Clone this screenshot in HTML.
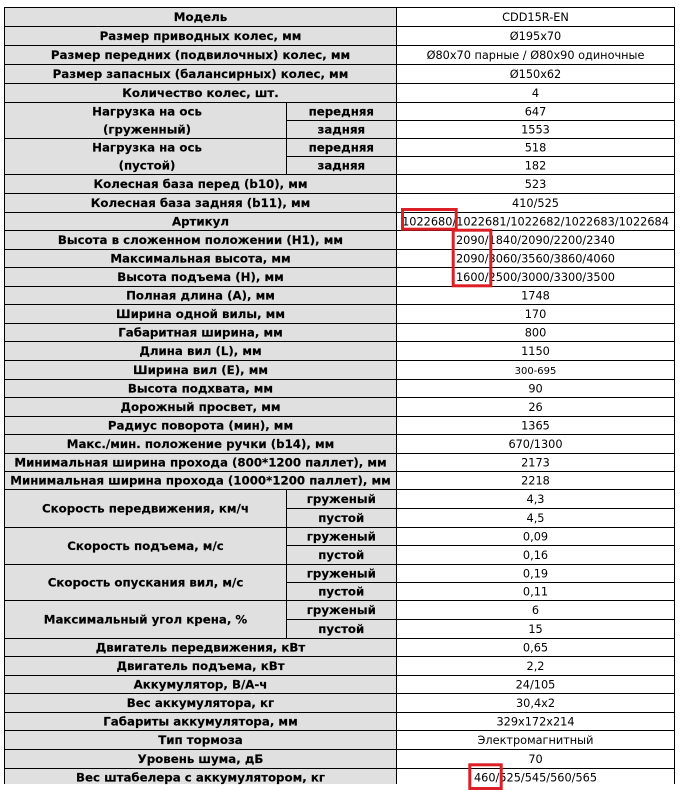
<!DOCTYPE html>
<html><head><meta charset="utf-8"><style>
html,body{margin:0;padding:0;background:#fff;}
svg{display:block;}
.l{font-family:"DejaVu Sans","Liberation Sans",sans-serif;font-weight:bold;font-size:11.8px;fill:#000;stroke:#000;stroke-width:0.15px;text-anchor:middle;}
.v{font-family:"DejaVu Sans","Liberation Sans",sans-serif;font-size:11.3px;fill:#000;text-anchor:middle;}
</style></head><body>
<svg width="680" height="790" viewBox="0 0 680 790" xmlns="http://www.w3.org/2000/svg">
<rect x="0" y="0" width="680" height="790" fill="#fff"/>
<rect x="4.5" y="7" width="392" height="777" fill="#e0e0e0"/>
<g stroke="#000" stroke-width="1" shape-rendering="crispEdges">
<path d="M4.5 7.5H675 M4.5 26.5H675 M4.5 45.5H675 M4.5 64.5H675 M4.5 83.5H675 M4.5 102.5H675 M4.5 138.5H675 M4.5 174.5H675 M4.5 193.5H675 M4.5 212.5H675 M4.5 230.5H675 M4.5 249.5H675 M4.5 267.5H675 M4.5 286.5H675 M4.5 304.5H675 M4.5 323.5H675 M4.5 341.5H675 M4.5 360.5H675 M4.5 379.5H675 M4.5 397.5H675 M4.5 416.5H675 M4.5 434.5H675 M4.5 453.5H675 M4.5 471.5H675 M4.5 489.5H675 M4.5 527.5H675 M4.5 564.5H675 M4.5 600.5H675 M4.5 638.5H675 M4.5 656.5H675 M4.5 675.5H675 M4.5 693.5H675 M4.5 712.5H675 M4.5 730.5H675 M4.5 749.5H675 M4.5 768.5H675"/>
<path d="M286 120.5H675 M286 156.5H675 M286 508.5H675 M286 545.5H675 M286 582.5H675 M286 619.5H675"/>
<path d="M4.5 7V784 M396.5 7V784 M674.5 7V784 M286.5 102V174 M286.5 489V638"/>
</g>
<g class="l">
<text x="200.5" y="21">Модель</text>
<text x="200.5" y="40">Размер приводных колес, мм</text>
<text x="200.5" y="59">Размер передних (подвилочных) колес, мм</text>
<text x="200.5" y="78">Размер запасных (балансирных) колес, мм</text>
<text x="200.5" y="97">Количество колес, шт.</text>
<text x="147" y="115.5">Нагрузка на ось</text>
<text x="147" y="133.5">(груженный)</text>
<text x="147" y="151.5">Нагрузка на ось</text>
<text x="147" y="169.5">(пустой)</text>
<text x="341.3" y="115.5">передняя</text>
<text x="341.3" y="133.5">задняя</text>
<text x="341.3" y="151.5">передняя</text>
<text x="341.3" y="169.5">задняя</text>
<text x="200.5" y="188">Колесная база перед (b10), мм</text>
<text x="200.5" y="207">Колесная база задняя (b11), мм</text>
<text x="200.5" y="225.5">Артикул</text>
<text x="200.5" y="244">Высота в сложенном положении (H1), мм</text>
<text x="200.5" y="262.5">Максимальная высота, мм</text>
<text x="200.5" y="281">Высота подъема (H), мм</text>
<text x="200.5" y="299.5">Полная длина (A), мм</text>
<text x="200.5" y="318">Ширина одной вилы, мм</text>
<text x="200.5" y="336.5">Габаритная ширина, мм</text>
<text x="200.5" y="355">Длина вил (L), мм</text>
<text x="200.5" y="374">Ширина вил (E), мм</text>
<text x="200.5" y="392.5">Высота подхвата, мм</text>
<text x="200.5" y="411">Дорожный просвет, мм</text>
<text x="200.5" y="429.5">Радиус поворота (мин), мм</text>
<text x="200.5" y="448">Макс./мин. положение ручки (b14), мм</text>
<text x="200.5" y="466.5">Минимальная ширина прохода (800*1200 паллет), мм</text>
<text x="200.5" y="484.5">Минимальная ширина прохода (1000*1200 паллет), мм</text>
<text x="145.5" y="512.5">Скорость передвижения, км/ч</text>
<text x="145.5" y="550">Скорость подъема, м/с</text>
<text x="145.5" y="586.5">Скорость опускания вил, м/с</text>
<text x="145.5" y="623.5">Максимальный угол крена, %</text>
<text x="341.3" y="503">груженый</text>
<text x="341.3" y="522">пустой</text>
<text x="341.3" y="540.5">груженый</text>
<text x="341.3" y="559">пустой</text>
<text x="341.3" y="577.5">груженый</text>
<text x="341.3" y="595.5">пустой</text>
<text x="341.3" y="614">груженый</text>
<text x="341.3" y="633">пустой</text>
<text x="200.5" y="651.5">Двигатель передвижения, кВт</text>
<text x="200.5" y="670">Двигатель подъема, кВт</text>
<text x="200.5" y="688.5">Аккумулятор, В/А-ч</text>
<text x="200.5" y="707">Вес аккумулятора, кг</text>
<text x="200.5" y="725.5">Габариты аккумулятора, мм</text>
<text x="200.5" y="744">Тип тормоза</text>
<text x="200.5" y="763">Уровень шума, дБ</text>
<text x="200.5" y="781.5">Вес штабелера с аккумулятором, кг</text>
</g>
<g class="v">
<text x="535.5" y="21">CDD15R-EN</text>
<text x="535.5" y="40">Ø195x70</text>
<text x="535.5" y="59">Ø80x70 парные / Ø80x90 одиночные</text>
<text x="535.5" y="78">Ø150x62</text>
<text x="535.5" y="97">4</text>
<text x="535.5" y="115.5">647</text>
<text x="535.5" y="133.5">1553</text>
<text x="535.5" y="151.5">518</text>
<text x="535.5" y="169.5">182</text>
<text x="535.5" y="188">523</text>
<text x="535.5" y="207">410/525</text>
<text x="535.5" y="225.5">1022680/1022681/1022682/1022683/1022684</text>
<text x="535.5" y="244">2090/1840/2090/2200/2340</text>
<text x="535.5" y="262.5">2090/3060/3560/3860/4060</text>
<text x="535.5" y="281">1600/2500/3000/3300/3500</text>
<text x="535.5" y="299.5">1748</text>
<text x="535.5" y="318">170</text>
<text x="535.5" y="336.5">800</text>
<text x="535.5" y="355">1150</text>
<text x="535.5" y="374" style="font-size:10px">300-695</text>
<text x="535.5" y="392.5">90</text>
<text x="535.5" y="411">26</text>
<text x="535.5" y="429.5">1365</text>
<text x="535.5" y="448">670/1300</text>
<text x="535.5" y="466.5">2173</text>
<text x="535.5" y="484.5">2218</text>
<text x="535.5" y="503">4,3</text>
<text x="535.5" y="522">4,5</text>
<text x="535.5" y="540.5">0,09</text>
<text x="535.5" y="559">0,16</text>
<text x="535.5" y="577.5">0,19</text>
<text x="535.5" y="595.5">0,11</text>
<text x="535.5" y="614">6</text>
<text x="535.5" y="633">15</text>
<text x="535.5" y="651.5">0,65</text>
<text x="535.5" y="670">2,2</text>
<text x="535.5" y="688.5">24/105</text>
<text x="535.5" y="707">30,4x2</text>
<text x="535.5" y="725.5">329x172x214</text>
<text x="535.5" y="744">Электромагнитный</text>
<text x="535.5" y="763">70</text>
<text x="535.5" y="781.5">460/525/545/560/565</text>
</g>
<g fill="none" stroke="#dc1f26" stroke-width="3">
<rect x="402.5" y="209.5" width="53.7" height="19.7"/>
<rect x="453.2" y="230.2" width="37.6" height="55.6"/>
<rect x="469.8" y="764.8" width="31.4" height="23.7"/>
</g>
</svg>
</body></html>
